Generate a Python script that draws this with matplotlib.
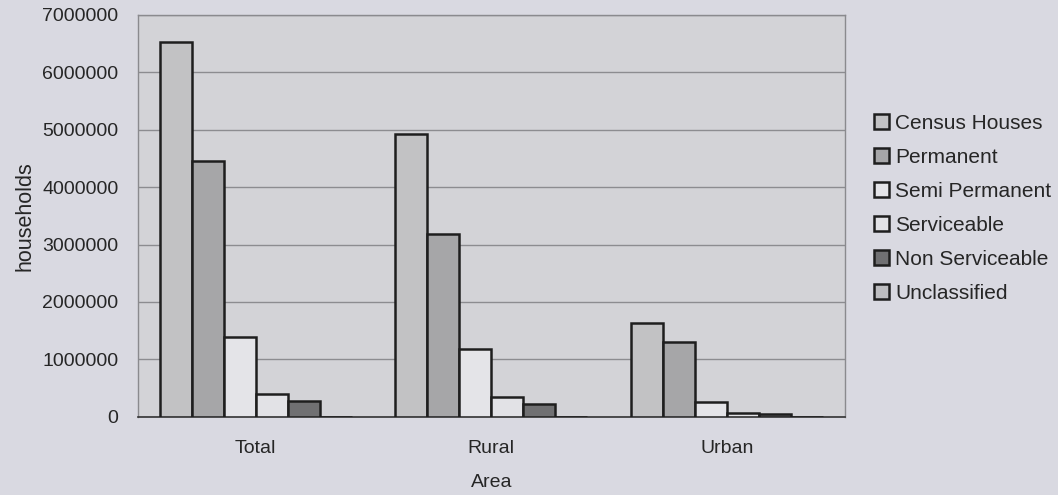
import numpy as np
import matplotlib.pyplot as plt

# =========================
# DATA
# =========================
areas = ["Total", "Rural", "Urban"]
series = ["Census Houses", "Permanent", "Semi Permanent",
          "Serviceable", "Non Serviceable", "Unclassified"]

census_houses = [6520000, 4920000, 1640000]
permanent = [4450000, 3190000, 1300000]
semi_permanent = [1390000, 1180000, 260000]
serviceable = [390000, 340000, 60000]
non_serviceable = [270000, 220000, 50000]
unclassified = [5000, 5000, 3000]

values = [census_houses, permanent, semi_permanent,
          serviceable, non_serviceable, unclassified]

colors = ["#c2c2c4", "#a6a6a8", "#e4e4e8", "#e2e2e6", "#707072", "#bdbdc0"]

plt.rcParams["font.family"] = ["Liberation Sans", "DejaVu Sans"]

bg = "#d9d9e1"
fig = plt.figure(figsize=(10.58, 4.95), dpi=100, facecolor=bg)
ax = fig.add_axes([0.1304, 0.158, 0.668, 0.812])
ax.set_facecolor("#d3d3d7")

x = np.arange(len(areas))
n = len(series)
w = 0.136
for i, (name, vals) in enumerate(zip(series, values)):
    ax.bar(x + (i - (n - 1) / 2) * w, vals, width=w, color=colors[i],
           edgecolor="#1e1e1e", linewidth=1.8, label=name, zorder=3)

ax.set_xlim(-0.5, 2.5)
ax.set_ylim(0, 7000000)
ax.set_yticks(np.arange(0, 7000001, 1000000))
ax.set_yticklabels([str(v) for v in range(0, 7000001, 1000000)])
ax.yaxis.grid(True, color="#8c8c90", linewidth=1.0, zorder=0)
ax.set_xticks(x)
ax.set_xticklabels(areas)

ax.tick_params(axis="y", length=0, pad=14, labelsize=14, labelcolor="#262626")
ax.tick_params(axis="x", length=0, pad=17, labelsize=14, labelcolor="#262626")

for side in ["top", "right", "left"]:
    ax.spines[side].set_color("#8a8a8e")
    ax.spines[side].set_linewidth(1.0)
ax.spines["bottom"].set_color("#333333")
ax.spines["bottom"].set_linewidth(1.2)

ax.set_ylabel("households", fontsize=15.5, color="#262626", labelpad=5)
ax.set_xlabel("Area", fontsize=14, color="#262626", labelpad=12)

leg = ax.legend(loc="upper left", bbox_to_anchor=(1.03, 0.775), frameon=False,
                fontsize=15, handlelength=0.7, handleheight=0.7,
                handletextpad=0.3, labelspacing=0.72, borderaxespad=0)
for t in leg.get_texts():
    t.set_color("#262626")

fig.savefig("out.png", dpi=100, facecolor=bg)
